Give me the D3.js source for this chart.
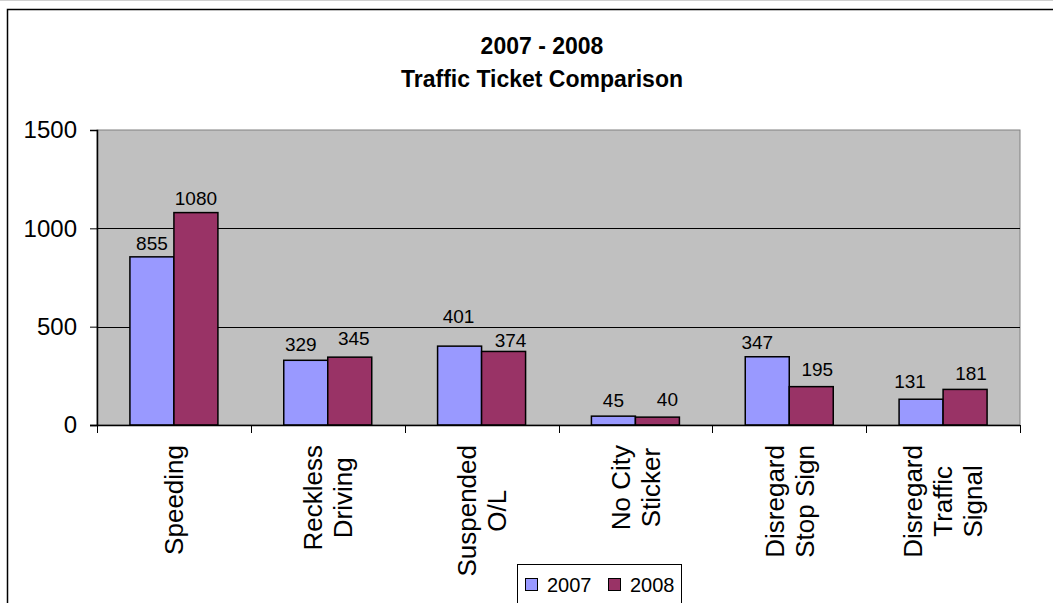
<!DOCTYPE html>
<html>
<head>
<meta charset="utf-8">
<script src="https://cdnjs.cloudflare.com/ajax/libs/d3/7.8.5/d3.min.js"></script>
<style>
  body { margin: 0; background: #fff; }
  text { font-family: Arial, "Liberation Sans", sans-serif; }
</style>
</head>
<body>
<div id="chart"></div>
<script>
// data
var categories = ["Speeding", "Reckless\nDriving", "Suspended\nO/L", "No City\nSticker", "Disregard\nStop Sign", "Disregard\nTraffic\nSignal"];
var seriesNames = ["2007", "2008"];
var values2007 = [855, 329, 401, 45, 347, 131];
var values2008 = [1080, 345, 374, 40, 195, 181];
var yTicks = [0, 500, 1000, 1500];

// the data labels were dragged around by hand in the original, so nudge them [dx, gap above bar]
var labelNudge2007 = [[0, 7], [-5, 9], [-1, 23], [0, 9], [-10, 8], [-11, 11]];
var labelNudge2008 = [[0, 8], [4, 12], [7, 4], [10, 11], [6, 11], [6, 9]];

var colors = ["#9999FF", "#993366"];
var width = 1053, height = 603;
var plot = {left: 97, right: 1020, top: 130, bottom: 425};

var svg = d3.select("#chart")
    .append("svg")
    .attr("width", width)
    .attr("height", height);

// chart frame (clipped on right and bottom)
svg.append("line").attr("x1", 0).attr("x2", width).attr("y1", 0.5).attr("y2", 0.5)
    .style("stroke", "#d0d0d0");
svg.append("path")
    .attr("d", "M7.5," + height + "V9.5H" + width)
    .style("fill", "none")
    .style("stroke", "#000")
    .style("stroke-width", 1.5);

// title
var title = svg.append("text")
    .attr("text-anchor", "middle")
    .attr("font-weight", "bold")
    .attr("font-size", "23px");
title.append("tspan").attr("x", 542).attr("y", 54).text("2007 - 2008");
title.append("tspan").attr("x", 542).attr("y", 87).text("Traffic Ticket Comparison");

var x0 = d3.scaleBand()
    .domain(d3.range(categories.length))
    .range([plot.left, plot.right])
    .paddingInner(0.428)
    .paddingOuter(0.214);

var x1 = d3.scaleBand()
    .domain(seriesNames)
    .range([0, x0.bandwidth()]);

var y = d3.scaleLinear()
    .domain([0, 1500])
    .range([plot.bottom, plot.top]);

// plot area
svg.append("rect")
    .attr("x", plot.left)
    .attr("y", plot.top)
    .attr("width", plot.right - plot.left)
    .attr("height", plot.bottom - plot.top)
    .style("fill", "#C0C0C0")
    .style("stroke", "#808080");

svg.selectAll(".grid")
    .data(yTicks.slice(1, 3))
    .enter()
    .append("line")
    .attr("class", "grid")
    .attr("x1", plot.left)
    .attr("x2", plot.right)
    .attr("y1", function(d) { return Math.round(y(d)) + 0.5; })
    .attr("y2", function(d) { return Math.round(y(d)) + 0.5; })
    .style("stroke", "#000");

// y axis
var yAxis = svg.append("g")
    .attr("transform", "translate(" + plot.left + ",0)")
    .call(d3.axisLeft(y).tickValues(yTicks).tickSize(7).tickPadding(13).tickFormat(d3.format("d")));
yAxis.select(".domain").style("stroke", "#000").style("stroke-width", 1.5);
yAxis.selectAll("text").attr("font-size", "24px").attr("fill", "#000").style("font-family", "Arial, 'Liberation Sans', sans-serif");

// bars
var seriesValues = [values2007, values2008];
var nudges = [labelNudge2007, labelNudge2008];
var barData = [];
categories.forEach(function(c, i) {
    seriesNames.forEach(function(s, j) {
        barData.push({cat: i, series: s, idx: j, value: seriesValues[j][i], nudge: nudges[j][i]});
    });
});

svg.selectAll(".bar")
    .data(barData)
    .enter()
    .append("rect")
    .attr("class", "bar")
    .attr("x", function(d) { return x0(d.cat) + x1(d.series); })
    .attr("y", function(d) { return y(d.value); })
    .attr("width", x1.bandwidth())
    .attr("height", function(d) { return y(0) - y(d.value); })
    .style("fill", function(d) { return colors[d.idx]; })
    .style("stroke", "#000")
    .style("stroke-width", 1.5);

svg.selectAll(".barlabel")
    .data(barData)
    .enter()
    .append("text")
    .attr("class", "barlabel")
    .attr("text-anchor", "middle")
    .attr("font-size", "19px")
    .attr("x", function(d) { return x0(d.cat) + x1(d.series) + x1.bandwidth() / 2 + d.nudge[0]; })
    .attr("y", function(d) { return y(d.value) - d.nudge[1]; })
    .text(function(d) { return d.value; });

// x axis line and tick marks between categories
svg.append("line")
    .attr("x1", plot.left - 7).attr("x2", plot.right)
    .attr("y1", plot.bottom + 0.5).attr("y2", plot.bottom + 0.5)
    .style("stroke", "#000")
    .style("stroke-width", 1.5);

var step = x0.step();
svg.selectAll(".xtick")
    .data(d3.range(categories.length + 1))
    .enter()
    .append("line")
    .attr("class", "xtick")
    .attr("x1", function(d) { return Math.round(plot.left + d * step) + 0.5; })
    .attr("x2", function(d) { return Math.round(plot.left + d * step) + 0.5; })
    .attr("y1", plot.bottom)
    .attr("y2", plot.bottom + 8)
    .style("stroke", "#000");

// category labels, rotated, lines centred, top of block just under the ticks
var labelTop = 445, lineH = 30;
categories.forEach(function(c, i) {
    var lines = c.split("\n");
    var cx = x0(i) + x0.bandwidth() / 2;
    var g = svg.append("g");
    var t = g.append("text")
        .attr("text-anchor", "middle")
        .attr("font-size", "26px");
    lines.forEach(function(l, k) {
        t.append("tspan")
            .attr("x", 0)
            .attr("y", (k - (lines.length - 1) / 2) * lineH)
            .attr("dy", "0.36em")
            .text(l);
    });
    var maxLen = d3.max(t.selectAll("tspan").nodes(), function(n) { return n.getComputedTextLength(); });
    g.attr("transform", "translate(" + cx + "," + (labelTop + maxLen / 2) + ") rotate(-90)");
});

// legend
var legend = svg.append("g");
legend.append("rect")
    .attr("x", 517.5).attr("y", 564.5)
    .attr("width", 164).attr("height", 60)
    .style("fill", "#fff")
    .style("stroke", "#000");

var legendX = [525, 608];
seriesNames.forEach(function(s, j) {
    legend.append("rect")
        .attr("x", legendX[j] + 0.5).attr("y", 578.5)
        .attr("width", 12).attr("height", 12)
        .style("fill", colors[j])
        .style("stroke", "#000");
    legend.append("text")
        .attr("x", legendX[j] + 22)
        .attr("y", 592)
        .attr("font-size", "20px")
        .text(s);
});
</script>
</body>
</html>
